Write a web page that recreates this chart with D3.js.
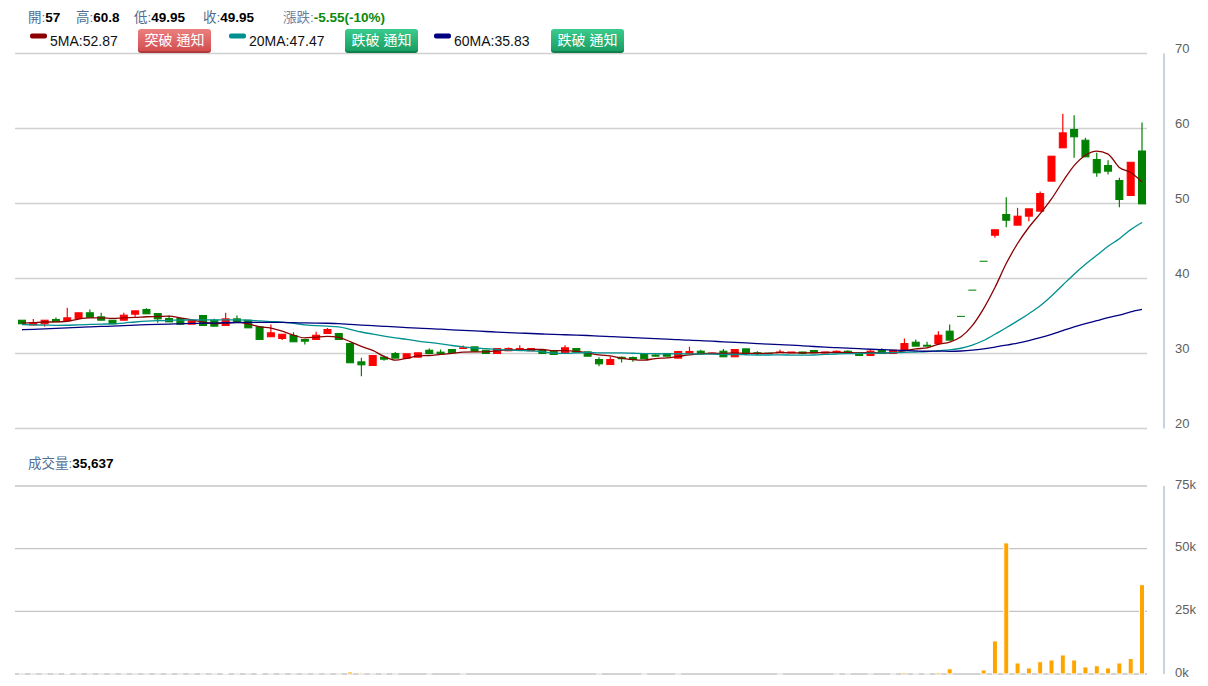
<!DOCTYPE html>
<html><head><meta charset="utf-8">
<script src="https://cdn.jsdelivr.net/npm/d3@7"></script>
<style>
body{margin:0;background:#fff;}
svg{display:block;font-family:"Liberation Sans",Arial,"Noto Sans CJK TC",sans-serif;}
</style>
</head><body>
<svg id="chart" width="1208" height="686"></svg>
<script>
// ---- data ----
const priorCloses = [30.5,30.6,30.8,30.7,31.0,31.2,31.1,31.3,31.5,31.4,31.6,31.8,31.7,31.9,32.0,32.1,31.9,32.2,32.3,32.4,32.5,32.6,32.8,
 33.2,33.6,34.0,34.3,34.5,34.6,34.4,34.5,34.7,34.6,34.4,34.5,34.3,34.6,34.8,34.7,34.9,
 35.1,35.0,34.8,34.6,34.3,33.9,33.5,
 33.2,33.0,32.9,33.0,33.2,33.4,33.6,
 33.6,33.8,34.0,34.2,34.3];

const opens = [34.44,33.8,33.96,34.53,34.36,34.67,35.43,34.89,34.44,34.44,
35.24,35.87,35.33,34.67,34.67,33.91,35.07,34.44,33.73,34.62,
34.44,33.56,32.23,32.0,32.4,31.87,31.87,32.67,32.67,31.33,
28.89,28.4,29.51,30.0,29.38,29.51,30.44,30.18,30.53,30.67,
30.89,30.44,30.0,30.36,30.4,30.36,30.4,30.31,30.09,30.67,
30.22,29.2,28.53,29.5,29.47,29.96,29.8,30.0,29.38,30.0,
30.31,29.96,30.31,29.56,30.62,30.1,30.05,30.1,30.1,30.2,
30.4,30.05,30.1,30.3,30.09,29.73,30.44,30.0,30.44,31.51,
31.1,31.33,32.98,34.95,38.45,42.3,45.77,48.53,47.11,48.31,
48.98,52.98,57.42,59.87,58.44,55.87,55.07,53.07,51.07,57.0];

const highs = [34.44,34.6,34.44,34.8,36.1,35.43,35.87,35.43,34.44,35.43,
35.69,36.04,35.33,35.07,34.67,34.44,35.07,34.62,35.43,35.07,
34.44,33.56,33.87,32.6,32.84,31.87,32.9,33.4,32.67,31.33,
29.42,29.73,29.73,30.2,29.96,30.09,30.67,30.53,30.53,31.07,
30.89,30.44,30.67,30.8,31.1,30.67,30.4,30.31,31.1,30.67,
30.22,29.5,29.6,29.6,29.6,29.96,29.9,30.0,30.27,30.9,
30.5,30.1,30.6,30.53,30.62,30.3,30.1,30.5,30.2,30.25,
30.4,30.2,30.4,30.45,30.09,30.5,30.7,30.44,32.0,31.87,
31.56,32.98,33.87,34.95,38.45,42.3,46.5,50.84,49.42,49.29,
51.6,56.31,61.96,61.78,58.76,56.76,55.76,53.42,55.5,60.8];

const lows = [33.96,33.8,33.6,34.23,34.36,34.67,34.84,34.44,33.96,34.44,
34.89,35.29,34.09,34.22,33.91,33.91,33.73,33.64,33.73,34.27,
33.42,31.87,32.23,31.8,31.56,31.2,31.87,32.67,31.87,28.76,
26.98,28.4,29.02,29.38,29.38,29.51,30.0,29.96,30.09,30.67,
30.31,30.0,30.0,30.36,30.4,30.36,30.0,29.87,30.09,30.18,
29.64,28.3,28.53,28.8,28.9,29.29,29.6,29.64,29.38,30.0,
29.96,29.96,29.56,29.56,30.0,29.8,29.95,30.1,30.1,29.9,
30.1,30.05,30.1,30.0,29.73,29.73,30.0,30.0,30.44,30.98,
30.98,31.33,31.78,34.95,38.45,42.3,45.43,46.84,47.11,47.64,
48.98,52.98,57.42,56.09,56.22,53.56,53.87,49.51,51.07,49.95];

const closes = [33.96,34.1,34.44,34.23,34.76,35.43,34.84,34.44,33.96,35.11,
35.69,35.29,34.62,34.22,33.91,34.44,33.73,33.64,34.62,34.27,
33.42,31.87,32.76,32.57,31.56,31.64,32.44,33.2,31.87,28.76,
28.49,29.73,29.24,29.38,29.96,30.09,30.0,29.96,30.09,30.76,
30.31,30.0,30.67,30.67,30.67,30.67,30.0,29.87,30.76,30.18,
29.64,28.62,29.2,29.3,29.2,29.29,29.65,29.64,30.27,30.27,
29.96,30.05,29.56,30.53,30.0,30.0,30.0,30.2,30.2,30.0,
30.1,30.2,30.3,30.05,29.73,30.31,30.0,30.44,31.33,30.98,
30.98,32.44,31.78,34.95,38.45,42.3,46.5,47.77,48.31,49.29,
51.33,56.31,59.42,58.89,56.22,54.09,54.31,50.53,55.5,49.95];

const volumes = [80,60,70,60,300,80,60,70,60,80, 60,70,60,80,60,70,60,80,300,70,
 60,300,80,60,70,60,80,60,70,800, 500,80,60,70,
 0,0,60,0,0,60,0,0,0,0, 0,0,0,0,0,0,0,60,0,0, 0,60,0,0,60,0,0,0,0,0, 0,0,0,60,0,0,0,0,60,60, 0,60,0,60,
 600,80,80,600,2100,0,0,1600,13200,52300,4400,2400,4900,5600,7600,5600,2800,3300,2400,4400,6200,35637];

const maPeriods = [5, 20, 60];
const maNames = ["5MA", "20MA", "60MA"];
const maLegendValues = ["52.87", "47.47", "35.83"];
const maColors = ["#8b0000", "#009090", "#000080"];

const priceTicks = [20, 30, 40, 50, 60, 70];
const volumeTicks = [0, 25000, 50000, 75000];
const volumeTickLabels = ["0k", "25k", "50k", "75k"];

const header = [
  {label:"開:", value:"57", x:28},
  {label:"高:", value:"60.8", x:76},
  {label:"低:", value:"49.95", x:134},
  {label:"收:", value:"49.95", x:203}
];
const changeText = "-5.55(-10%)";
const volumeLabel = "成交量:";
const volumeValue = "35,637";
const buttonTexts = ["突破 通知", "跌破 通知", "跌破 通知"];

// ---- scales ----
const svg = d3.select("#chart");
const n = closes.length;
const x = d3.scaleLinear().domain([0, n - 1]).range([22, 1142]);
const yP = d3.scaleLinear().domain([20, 70]).range([428.5, 53.5]);
const yV = d3.scaleLinear().domain([0, 75000]).range([674, 486]);
const gridX0 = 15, gridX1 = 1147;

const allCloses = priorCloses.concat(closes);
const off = priorCloses.length;
function ma(p) {
  return closes.map((c, i) => d3.mean(allCloses.slice(off + i - p + 1, off + i + 1)));
}
const maData = maPeriods.map(ma);

// ---- price grid + axis ----
svg.append("g").selectAll("line").data(priceTicks).join("line")
  .attr("x1", gridX0).attr("x2", gridX1)
  .attr("y1", d => yP(d)).attr("y2", d => yP(d))
  .attr("stroke", "#d0d0d0").attr("stroke-width", 1.3);
svg.append("line").attr("x1", 1164).attr("x2", 1164)
  .attr("y1", yP(70)).attr("y2", yP(20))
  .attr("stroke", "#c5d3e3").attr("stroke-width", 2);
const axisR = d3.axisRight(yP).tickValues(priceTicks).tickSize(0).tickPadding(0).tickFormat(d3.format("d"));
const ax = svg.append("g").attr("transform", "translate(1175,-5)").call(axisR);
ax.select(".domain").remove();
ax.selectAll("text").attr("font-size", 13).attr("fill", "#606060")
  .attr("font-family", "'Liberation Sans',Arial,sans-serif");

// ---- volume grid + axis ----
svg.append("g").selectAll("line").data(volumeTicks).join("line")
  .attr("x1", gridX0).attr("x2", gridX1)
  .attr("y1", d => yV(d)).attr("y2", d => yV(d))
  .attr("stroke", "#c4c4c4").attr("stroke-width", 1.3);
svg.append("line").attr("x1", 1164).attr("x2", 1164)
  .attr("y1", yV(75000)).attr("y2", yV(0))
  .attr("stroke", "#c5d3e3").attr("stroke-width", 2);
const axisV = d3.axisRight(yV).tickValues(volumeTicks).tickSize(0).tickPadding(0)
  .tickFormat((d, i) => volumeTickLabels[i]);
const avx = svg.append("g").attr("transform", "translate(1175,-2)").call(axisV);
avx.select(".domain").remove();
avx.selectAll("text").attr("font-size", 13).attr("fill", "#606060")
  .attr("font-family", "'Liberation Sans',Arial,sans-serif");

// ---- candles ----
const up = "#ff0000", down = "#008000";
const candles = svg.append("g").selectAll("g").data(closes.map((c, i) => i)).join("g");
candles.append("line")
  .attr("x1", i => x(i)).attr("x2", i => x(i))
  .attr("y1", i => yP(highs[i])).attr("y2", i => yP(lows[i]))
  .attr("stroke", i => closes[i] > opens[i] ? up : down).attr("stroke-width", 1.2);
candles.append("rect")
  .attr("x", i => x(i) - 3.5).attr("width", 7)
  .attr("y", i => yP(Math.max(opens[i], closes[i])))
  .attr("height", i => Math.max(0.01, Math.abs(yP(opens[i]) - yP(closes[i]))))
  .attr("fill", i => closes[i] > opens[i] ? up : down)
  .attr("stroke", i => closes[i] > opens[i] ? up : down).attr("stroke-width", 1);

// ---- moving averages ----
const line = d3.line().x((d, i) => x(i)).y(d => yP(d)).curve(d3.curveMonotoneX);
maData.forEach((d, k) => {
  svg.append("path").attr("d", line(d)).attr("fill", "none")
    .attr("stroke", maColors[k]).attr("stroke-width", 1.3);
});

// ---- volume bars ----
svg.append("g").selectAll("rect").data(volumes.map((v, i) => i).filter(i => volumes[i] > 0)).join("rect")
  .attr("x", i => x(i) - 2.5).attr("width", 5)
  .attr("y", i => yV(volumes[i])).attr("height", i => yV(0) - yV(volumes[i]))
  .attr("fill", "#ffa500").attr("stroke", "#ffffff").attr("stroke-width", 1);

// ---- header ----
const hdr = svg.append("g").attr("font-size", 13.5);
header.forEach(h => {
  const t = hdr.append("text").attr("x", h.x).attr("y", 22);
  t.append("tspan").attr("fill", "#4f6d94").text(h.label);
  t.append("tspan").attr("fill", "#000").attr("font-weight", "bold").text(h.value);
});
const ch = hdr.append("text").attr("x", 283).attr("y", 22);
ch.append("tspan").attr("fill", "#6f82a0").text("漲跌:");
ch.append("tspan").attr("fill", "#0a8a0a").attr("font-weight", "bold").text(changeText);

// ---- legend row ----
const defs = svg.append("defs");
const gradR = defs.append("linearGradient").attr("id", "gr").attr("x1", 0).attr("x2", 0).attr("y1", 0).attr("y2", 1);
gradR.append("stop").attr("offset", "0%").attr("stop-color", "#ec8080");
gradR.append("stop").attr("offset", "100%").attr("stop-color", "#d24e50");
const gradG = defs.append("linearGradient").attr("id", "gg").attr("x1", 0).attr("x2", 0).attr("y1", 0).attr("y2", 1);
gradG.append("stop").attr("offset", "0%").attr("stop-color", "#3ccb8e");
gradG.append("stop").attr("offset", "100%").attr("stop-color", "#1a9e63");

const legendX = [30, 229, 434];
const buttonX = [138, 345, 551];
maNames.forEach((name, k) => {
  svg.append("rect").attr("x", legendX[k]).attr("y", 33.5).attr("width", 17).attr("height", 5)
    .attr("rx", 2).attr("fill", maColors[k]);
  svg.append("text").attr("x", legendX[k] + 20).attr("y", 46).attr("font-size", 14)
    .attr("fill", "#111").text(name + ":" + maLegendValues[k]);
  const bx = buttonX[k];
  svg.append("rect").attr("x", bx).attr("y", 30).attr("width", 73).attr("height", 23).attr("rx", 3)
    .attr("fill", k === 0 ? "#b03a3a" : "#0f7f4c");
  svg.append("rect").attr("x", bx).attr("y", 29).attr("width", 73).attr("height", 22).attr("rx", 3)
    .attr("fill", k === 0 ? "url(#gr)" : "url(#gg)");
  svg.append("text").attr("x", bx + 36.5).attr("y", 45).attr("text-anchor", "middle")
    .attr("font-size", 14).attr("fill", "#fff").text(buttonTexts[k]);
});

// ---- volume label ----
const vl = svg.append("text").attr("x", 28).attr("y", 468).attr("font-size", 13.5);
vl.append("tspan").attr("fill", "#4f6d94").text(volumeLabel);
vl.append("tspan").attr("fill", "#000").attr("font-weight", "bold").text(volumeValue);
</script>
</body></html>
